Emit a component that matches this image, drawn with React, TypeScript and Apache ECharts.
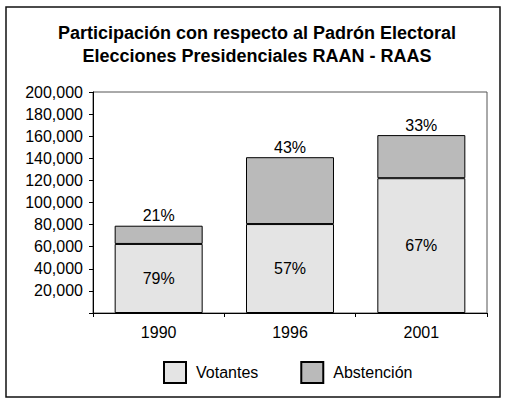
import React, { useEffect, useRef } from "react";
import * as echarts from "echarts";

const titleLines = [
  "Participación con respecto al Padrón Electoral",
  "Elecciones Presidenciales RAAN - RAAS",
];
const years = ["1990", "1996", "2001"];
const votantes = [62500, 80500, 122000];
const abstencion = [16500, 60500, 39000];
const votantesPct = ["79%", "57%", "67%"];
const abstencionPct = ["21%", "43%", "33%"];
const seriesNames = ["Votantes", "Abstención"];

const FONT = "'Liberation Sans', Arial, sans-serif";

export default function App() {
  const ref = useRef<HTMLDivElement>(null);
  useEffect(() => {
    if (!ref.current) return;
    const chart = echarts.init(ref.current, undefined, { renderer: "svg" });
    chart.setOption({
      animation: false,
      backgroundColor: "#ffffff",
      textStyle: { fontFamily: FONT },
      title: {
        text: titleLines.join("\n"),
        left: 257,
        textAlign: "center",
        top: 21,
        padding: 0,
        textStyle: {
          fontFamily: FONT,
          fontSize: 18,
          fontWeight: "bold",
          color: "#000",
          lineHeight: 23,
        },
      },
      graphic: [
        {
          type: "rect",
          shape: { x: 6, y: 7, width: 494, height: 390 },
          style: { fill: "none", stroke: "#111", lineWidth: 1.5 },
          silent: true,
        },
      ],
      legend: {
        left: 163,
        top: 361,
        padding: 0,
        itemWidth: 22,
        itemHeight: 21,
        itemGap: 42,
        icon: "rect",
        textStyle: { fontFamily: FONT, fontSize: 16, color: "#000", padding: [0, 0, 0, 5] },
        data: seriesNames,
      },
      grid: {
        left: 93,
        right: 18,
        top: 92,
        bottom: 87,
        show: true,
        borderColor: "#555",
        borderWidth: 1,
        containLabel: false,
      },
      xAxis: {
        type: "category",
        data: years,
        axisLine: { lineStyle: { color: "#000", width: 1 } },
        axisTick: { show: true, length: 4, inside: false, lineStyle: { color: "#000" } },
        axisLabel: { fontFamily: FONT, fontSize: 16, color: "#000", margin: 11 },
      },
      yAxis: {
        type: "value",
        min: 0,
        max: 200000,
        interval: 20000,
        splitLine: { show: false },
        axisLine: { show: true, lineStyle: { color: "#000", width: 1 } },
        axisTick: { show: true, length: 4, lineStyle: { color: "#000" } },
        axisLabel: {
          fontFamily: FONT,
          fontSize: 16,
          color: "#000",
          margin: 10,
          formatter: (v: number) =>
            v === 0 ? "" : v.toLocaleString("en-US"),
        },
      },
      series: [
        {
          name: seriesNames[0],
          type: "bar",
          stack: "total",
          barCategoryGap: "33%",
          data: votantes,
          itemStyle: { color: "#e4e4e4", borderColor: "#000", borderWidth: 1 },
          label: {
            show: true,
            position: "inside",
            fontFamily: FONT,
            fontSize: 16,
            color: "#000",
            formatter: (p: any) => votantesPct[p.dataIndex],
          },
        },
        {
          name: seriesNames[1],
          type: "bar",
          stack: "total",
          barCategoryGap: "33%",
          data: abstencion,
          itemStyle: { color: "#bababa", borderColor: "#000", borderWidth: 1 },
          label: {
            show: true,
            position: "top",
            distance: 2,
            fontFamily: FONT,
            fontSize: 16,
            color: "#000",
            formatter: (p: any) => abstencionPct[p.dataIndex],
          },
        },
      ],
    });
    return () => chart.dispose();
  }, []);
  return (
    <div
      ref={ref}
      style={{ position: "absolute", left: 0, top: 0, width: 505, height: 400 }}
    />
  );
}
